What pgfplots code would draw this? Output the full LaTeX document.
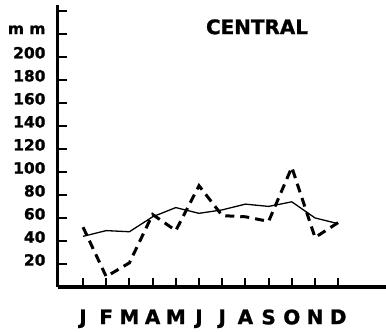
\documentclass[border=0pt]{standalone}
\usepackage{fontspec}
\setmainfont{DejaVu Sans}
\newfontfamily\heavyfont{DejaVu Sans Bold}[FakeBold=1.2]
\usepackage{pgfplots}
\pgfplotsset{compat=1.18}
\begin{document}
\begin{tikzpicture}
\begin{axis}[
  scale only axis,
  width=328bp, height=282bp,
  xmin=-0.078, xmax=14.06,
  ymin=0, ymax=245,
  axis lines=left,
  axis line style={line width=3bp,-},
  tick align=inside,
  major tick length=9bp,
  tick style={line width=2bp,black},
  xtick={1,...,12},
  xticklabels={J,F,M,A,M,J,J,A,S,O,N,D},
  ytick={20,40,...,240},
  yticklabels={20,40,60,80,100,120,140,160,180,200,{m m},{}},
  /pgf/number format/assume math mode=true,
  xticklabel style={font=\heavyfont\fontsize{20}{20}\selectfont, yshift=-19bp},
  yticklabel style={font=\heavyfont\fontsize{15.5}{15.5}\selectfont, anchor=east, yshift=4bp, xshift=-9bp},
  clip=false,
]
\coordinate (O) at (rel axis cs:0,0);
\addplot[black, line width=1.3bp, line join=round] coordinates {
(1,44) (2,49) (3,48) (4,61) (5,69) (6,64) (7,67) (8,72) (9,70) (10,74) (11,60) (12,55)};
\addplot[black, line width=3bp, dash pattern=on 9bp off 6bp, line join=miter] coordinates {
(1,52) (2,9) (3,21) (4,63) (5,49) (6,88) (7,62) (8,61) (9,57) (10,104) (11,43) (12,56)};
\node[font=\heavyfont\fontsize{20}{20}\selectfont] at (axis cs:8.5,226) {CENTRAL};
\end{axis}
\pgfresetboundingbox
\path[use as bounding box] (O) ++(-58bp,-45bp) rectangle ++(386bp,332bp);
\end{tikzpicture}
\end{document}
